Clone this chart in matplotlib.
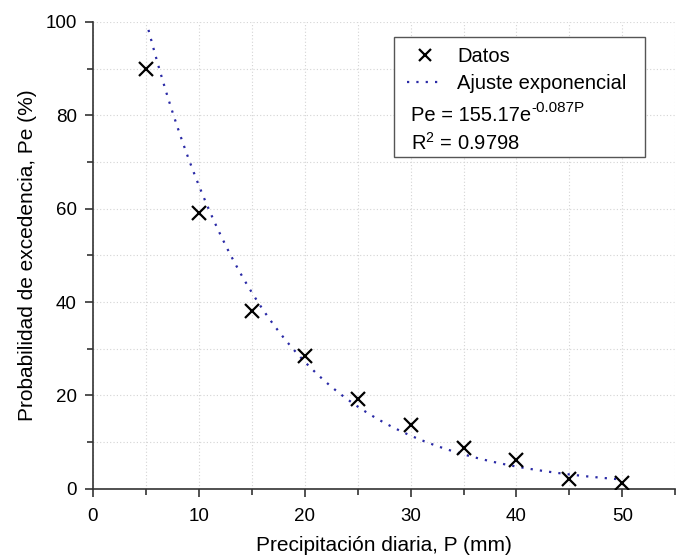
import numpy as np
import matplotlib
matplotlib.use("Agg")
import matplotlib.pyplot as plt
from matplotlib.patches import Rectangle
from matplotlib.lines import Line2D

plt.rcParams['font.family'] = ['Liberation Sans', 'DejaVu Sans']
plt.rcParams['mathtext.fontset'] = 'custom'
plt.rcParams['mathtext.rm'] = 'Liberation Sans'
plt.rcParams['mathtext.it'] = 'Liberation Sans:italic'

# Data
precip = [5, 10, 15, 20, 25, 30, 35, 40, 45, 50]
pe = [90.0, 59.0, 38.0, 28.5, 19.2, 13.6, 8.8, 6.1, 2.2, 1.3]

# Exponential fit parameters (from chart legend)
fit_a = 155.17
fit_b = -0.087
fit_range = (5.25, 50)
r2 = 0.9798

x_ticks = [0, 10, 20, 30, 40, 50]
y_ticks = [0, 20, 40, 60, 80, 100]
x_minor = [5, 15, 25, 35, 45, 55]
y_minor = [10, 30, 50, 70, 90]

fig = plt.figure(figsize=(6.78, 5.6), dpi=100)
ax = fig.add_axes([0.137, 0.127, 0.859, 0.834])

xf = np.linspace(fit_range[0], fit_range[1], 300)
yf = fit_a * np.exp(fit_b * xf)
fit_color = '#2a2aa6'
ax.plot(xf, yf, linestyle=(0, (1, 3.2)), color=fit_color, lw=1.6, zorder=2)
ax.plot(precip, pe, linestyle='none', marker='x', color='black', ms=9.5, mew=1.6, zorder=3)

ax.set_xlim(0, 55)
ax.set_ylim(0, 100)
ax.set_xticks(x_ticks)
ax.set_yticks(y_ticks)
ax.set_xticks(x_minor, minor=True)
ax.set_yticks(y_minor, minor=True)
ax.grid(True, which='both', color='#d4d4d4', linestyle=(0, (1, 2)), lw=0.8, zorder=0)
ax.set_axisbelow(True)

for s in ['top', 'right']:
    ax.spines[s].set_visible(False)
for s in ['left', 'bottom']:
    ax.spines[s].set_linewidth(1.2)
    ax.spines[s].set_color('#333333')
ax.tick_params(which='major', direction='out', length=6, width=1.2, color='#333333', labelsize=13.5)
ax.tick_params(axis='y', which='major', pad=5.5)
ax.tick_params(axis='x', which='major', pad=7.5)
ax.tick_params(which='minor', direction='out', length=4, width=1.2, color='#333333')

ax.set_xlabel('Precipitación diaria, P (mm)', fontsize=15, labelpad=8)
ax.set_ylabel('Probabilidad de excedencia, Pe (%)', fontsize=15, labelpad=6)

# Legend frame
frame = Rectangle((0.517, 0.711), 0.431, 0.257, transform=ax.transAxes,
                  facecolor='white', edgecolor='#555555', lw=1.0, zorder=5)
ax.add_patch(frame)

handles = [Line2D([], [], linestyle='none', marker='x', color='black', ms=9, mew=1.6),
           Line2D([], [], linestyle=(0, (1, 3.2)), color=fit_color, lw=1.6)]
leg = ax.legend(handles, ['Datos', 'Ajuste exponencial'], loc='upper left',
                bbox_to_anchor=(0.5395, 0.946), frameon=False, fontsize=14.5,
                handlelength=1.75, handletextpad=0.75, labelspacing=0.4,
                borderpad=0.0, borderaxespad=0.0)
leg.set_zorder(6)

eq = ax.text(0.5464, 0.80, 'Pe = 155.17e', transform=ax.transAxes,
             fontsize=14.5, va='center', ha='left', zorder=7)
ax.annotate(f'{fit_b:.3f}P', xy=(1.0, 0.5), xycoords=eq, fontsize=11,
            va='bottom', ha='left', zorder=7)
ax.text(0.5464, 0.741, r'R$^{\mathregular{2}}$ = ' + f'{r2:.4f}', transform=ax.transAxes,
        fontsize=14.5, va='center', ha='left', zorder=7)

fig.savefig('out.png', dpi=100)
